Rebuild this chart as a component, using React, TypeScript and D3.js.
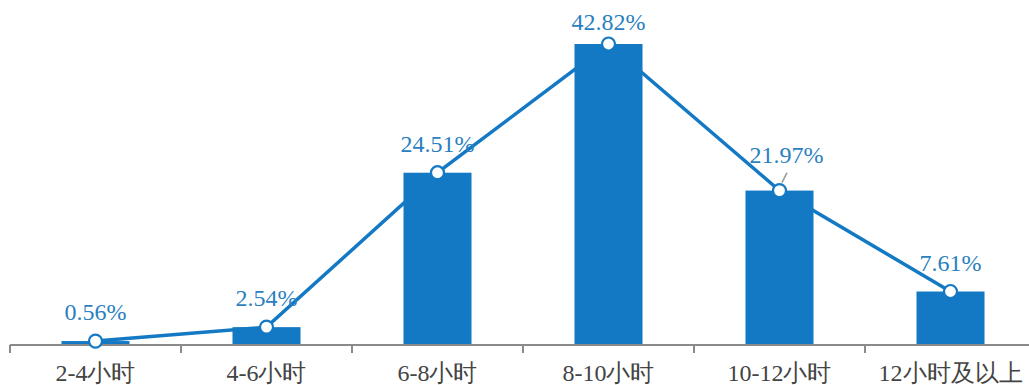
import React from "react";
import * as d3 from "d3";

const categories = ["2-4小时", "4-6小时", "6-8小时", "8-10小时", "10-12小时", "12小时及以上"];
const values = [0.56, 2.54, 24.51, 42.82, 21.97, 7.61];
const labels = ["0.56%", "2.54%", "24.51%", "42.82%", "21.97%", "7.61%"];

const W = 1029;
const H = 385;
const BLUE = "#1479c4";
const LABEL = "#2a7fc0";
const FONT = "Liberation Serif";

export default function App() {
  const x = d3.scaleBand<string>().domain(categories).range([10, 1036]).paddingInner(0).paddingOuter(0);
  const y = d3.scaleLinear().domain([0, 42.82]).range([345, 44]);
  const bw = 68;
  const cx = (c: string) => (x(c) as number) + x.bandwidth() / 2;
  const line = d3
    .line<number>()
    .x((_, i) => cx(categories[i]))
    .y((d) => y(d));
  const ticks = categories.map((c) => x(c) as number);

  return (
    <svg width={W} height={H} style={{ position: "absolute", left: 0, top: 0 }}>
      <rect width={W} height={H} fill="#fff" />
      {categories.map((c, i) => (
        <rect key={c} x={cx(c) - bw / 2} y={y(values[i])} width={bw} height={y(0) - y(values[i])} fill={BLUE} />
      ))}
      <line x1={10} x2={W} y1={345} y2={345} stroke="#8a8a8a" strokeWidth={2} />
      {ticks.map((t, i) => (
        <line key={i} x1={t} x2={t} y1={345} y2={353} stroke="#8a8a8a" strokeWidth={2} />
      ))}
      <path d={line(values) || ""} fill="none" stroke={BLUE} strokeWidth={3.5} />
      {values.map((v, i) => (
        <circle key={i} cx={cx(categories[i])} cy={y(v)} r={6.5} fill="#fff" stroke={BLUE} strokeWidth={2.2} />
      ))}
      {values.map((v, i) => {
        const dy = i === 4 ? -28 : i === 3 ? -14 : -21;
        const dx = i === 4 ? 7 : 0;
        return (
          <text
            key={i}
            x={cx(categories[i]) + dx}
            y={y(v) + dy}
            textAnchor="middle"
            fontFamily={FONT}
            fontSize={24}
            fill={LABEL}
          >
            {labels[i]}
          </text>
        );
      })}
      <line
        x1={cx(categories[4]) + 7.5}
        y1={y(values[4]) - 18}
        x2={cx(categories[4]) + 2.5}
        y2={y(values[4]) - 8}
        stroke="#999"
        strokeWidth={1.5}
      />
      {categories.map((c) => (
        <text key={c} x={cx(c)} y={381} textAnchor="middle" fontFamily={FONT} fontSize={24} fill="#444">
          {c}
        </text>
      ))}
    </svg>
  );
}
